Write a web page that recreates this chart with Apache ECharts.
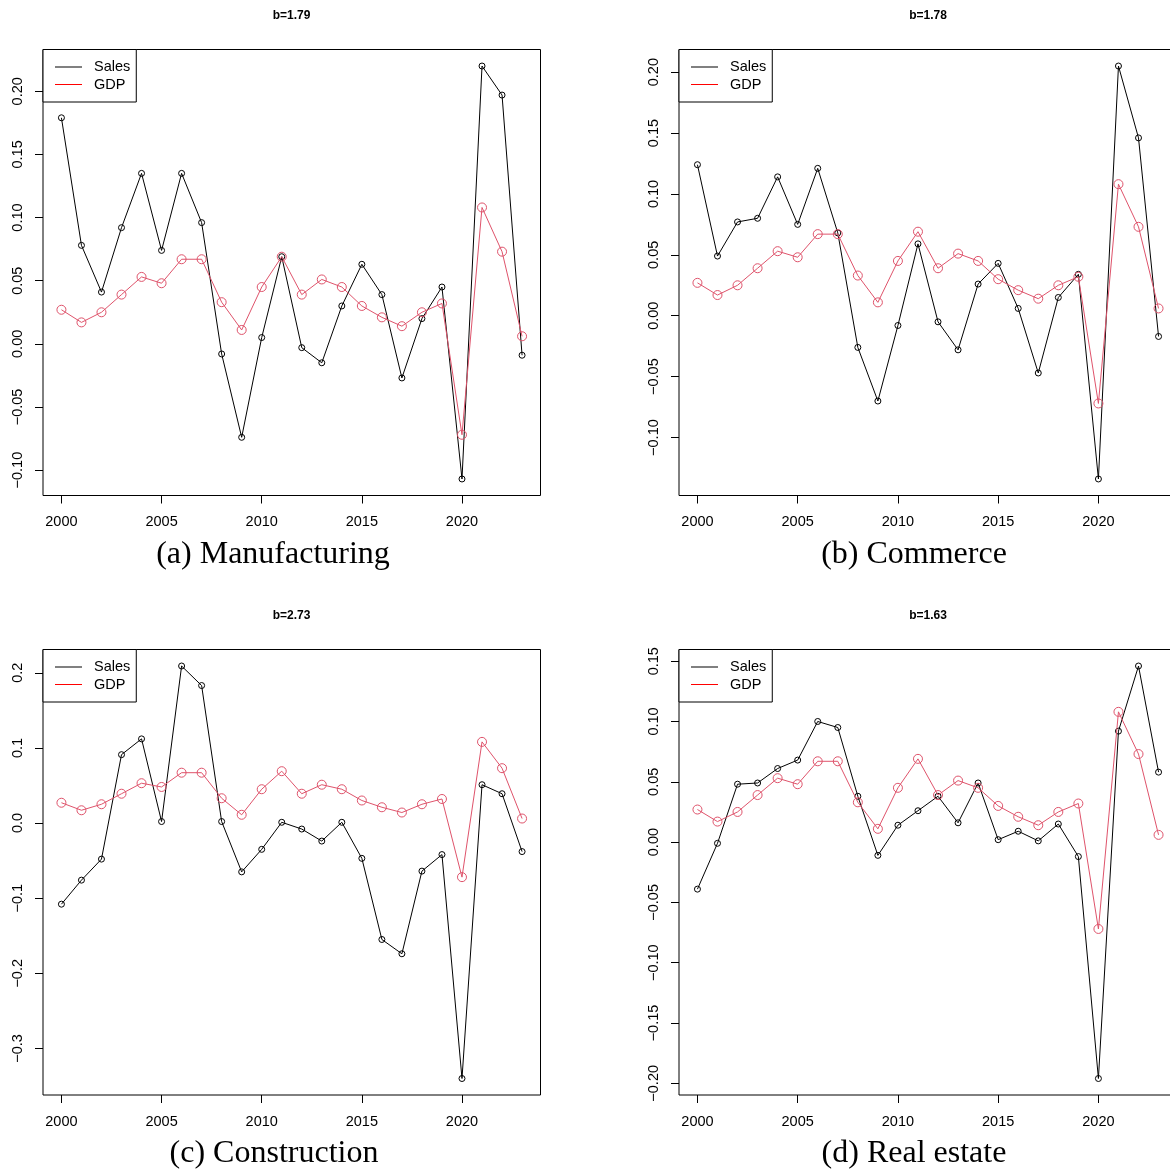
<!DOCTYPE html>
<html>
<head>
<meta charset="utf-8">
<script src="https://cdn.jsdelivr.net/npm/echarts@6/dist/echarts.min.js"></script>
<style>
html,body{margin:0;padding:0;background:#fff;}
#chart{width:1170px;height:1169px;}
</style>
</head>
<body>
<div id="chart"></div>
<script>
// ---------------- data ----------------
const years = [2000,2001,2002,2003,2004,2005,2006,2007,2008,2009,2010,2011,2012,2013,2014,2015,2016,2017,2018,2019,2020,2021,2022,2023];
const gdp = [0.027,0.017,0.025,0.039,0.053,0.048,0.067,0.067,0.033,0.011,0.045,0.069,0.039,0.051,0.045,0.030,0.021,0.014,0.025,0.032,-0.072,0.108,0.073,0.006];
const salesManufacturing = [0.179,0.078,0.041,0.092,0.135,0.074,0.135,0.096,-0.008,-0.074,0.005,0.069,-0.003,-0.015,0.030,0.063,0.039,-0.027,0.020,0.045,-0.107,0.220,0.197,-0.009];
const salesCommerce = [0.124,0.049,0.077,0.080,0.114,0.075,0.121,0.068,-0.026,-0.070,-0.008,0.059,-0.005,-0.028,0.026,0.043,0.006,-0.047,0.015,0.034,-0.134,0.205,0.146,-0.017];
const salesConstruction = [-0.108,-0.076,-0.048,0.091,0.112,0.002,0.209,0.183,0.002,-0.065,-0.035,0.001,-0.008,-0.024,0.001,-0.047,-0.155,-0.174,-0.064,-0.042,-0.340,0.051,0.039,-0.038];
const salesRealEstate = [-0.039,-0.001,0.048,0.049,0.061,0.068,0.100,0.095,0.038,-0.011,0.014,0.026,0.038,0.016,0.049,0.002,0.009,0.001,0.015,-0.012,-0.196,0.092,0.146,0.058];
const xTicks = [2000,2005,2010,2015,2020];
const yTicksA = [-0.10,-0.05,0.00,0.05,0.10,0.15,0.20];
const yTicksB = [-0.10,-0.05,0.00,0.05,0.10,0.15,0.20];
const yTicksC = [-0.3,-0.2,-0.1,0.0,0.1,0.2];
const yTicksD = [-0.20,-0.15,-0.10,-0.05,0.00,0.05,0.10,0.15];
const yDecimals = [2,2,1,2];
const bLabels = ['b=1.79','b=1.78','b=2.73','b=1.63'];
const captions = ['(a) Manufacturing','(b) Commerce','(c) Construction','(d) Real estate'];
const legendNames = ['Sales','GDP'];

// ---------------- layout ----------------
const panels = [
  {sales: salesManufacturing, ticks: yTicksA, left: 43,  top: 49.5,  width: 497.5, height: 446,   capX: 273, capY: 555},
  {sales: salesCommerce,      ticks: yTicksB, left: 679, top: 49.5,  width: 498,   height: 446,   capX: 914, capY: 555},
  {sales: salesConstruction,  ticks: yTicksC, left: 43,  top: 649.5, width: 497.5, height: 445.5, capX: 274, capY: 1154},
  {sales: salesRealEstate,    ticks: yTicksD, left: 679, top: 649.5, width: 498,   height: 445.5, capX: 914, capY: 1154}
];

const SANS = 'Liberation Sans, Arial, Helvetica, sans-serif';
const SERIF = 'Liberation Serif, Times New Roman, serif';
const fmtNum = (v, d) => (v < 0 ? '\u2212' : '') + Math.abs(v).toFixed(d);

const grid = [], xAxis = [], yAxis = [], series = [], legend = [], title = [];

panels.forEach((p, i) => {
  grid.push({left: p.left, top: p.top, width: p.width, height: p.height,
    outerBoundsMode: 'none',
    show: true, borderColor: '#000', borderWidth: 1, backgroundColor: 'transparent', containLabel: false});

  const xr = years[years.length - 1] - years[0];
  xAxis.push({
    type: 'value', gridIndex: i, position: 'bottom',
    min: years[0] - 0.04 * xr, max: years[years.length - 1] + 0.04 * xr,
    axisLine: {show: false, onZero: false},
    splitLine: {show: false},
    axisTick: {show: true, inside: false, length: 8, customValues: xTicks, lineStyle: {color: '#000', width: 1}},
    axisLabel: {show: true, customValues: xTicks, margin: 19, color: '#000', fontFamily: SANS, fontSize: 14.5,
      formatter: v => String(v)}
  });

  const all = p.sales.concat(gdp);
  const lo = Math.min.apply(null, all), hi = Math.max.apply(null, all);
  const yr = hi - lo;
  yAxis.push({
    type: 'value', gridIndex: i, position: 'left',
    min: lo - 0.04 * yr, max: hi + 0.04 * yr,
    axisLine: {show: false, onZero: false},
    splitLine: {show: false},
    axisTick: {show: true, inside: false, length: 8, customValues: p.ticks, lineStyle: {color: '#000', width: 1}},
    axisLabel: {show: true, customValues: p.ticks, rotate: 90, margin: 18, color: '#000', fontFamily: SANS, fontSize: 14.5,
      formatter: v => fmtNum(v, yDecimals[i])}
  });

  series.push({
    name: 'Sales', type: 'line', xAxisIndex: i, yAxisIndex: i,
    data: years.map((y, k) => [y, p.sales[k]]),
    symbol: 'circle', symbolSize: 6,
    itemStyle: {color: 'rgba(0,0,0,0)', borderColor: '#000', borderWidth: 1},
    lineStyle: {color: '#000', width: 1},
    emphasis: {disabled: true}, animation: false, z: 2
  });
  series.push({
    name: 'GDP', type: 'line', xAxisIndex: i, yAxisIndex: i,
    data: years.map((y, k) => [y, gdp[k]]),
    symbol: 'circle', symbolSize: 9,
    itemStyle: {color: 'rgba(0,0,0,0)', borderColor: '#DF536B', borderWidth: 1},
    lineStyle: {color: '#DF536B', width: 1},
    emphasis: {disabled: true}, animation: false, z: 3
  });

  legend.push({
    orient: 'vertical', left: p.left, top: p.top,
    padding: [9, 6, 9, 12], itemGap: 0.5, itemWidth: 27, itemHeight: 1,
    icon: 'rect', selectedMode: false,
    borderColor: '#000', borderWidth: 1, backgroundColor: '#fff', z: 10,
    textStyle: {fontFamily: SANS, fontSize: 14.5, color: '#000', lineHeight: 17, padding: [0, 0, 0, 7]},
    data: [
      {name: legendNames[0], itemStyle: {color: '#000000', borderWidth: 0}, lineStyle: {color: '#000000'}},
      {name: legendNames[1], itemStyle: {color: '#FF0000', borderWidth: 0}, lineStyle: {color: '#FF0000'}}
    ]
  });

  title.push({
    text: bLabels[i], left: i % 2 === 0 ? 291.5 : 928, top: p.top - 41, textAlign: 'center', padding: 0,
    textStyle: {fontFamily: SANS, fontSize: 12, fontWeight: 'bold', color: '#000', lineHeight: 14}
  });
  title.push({
    text: captions[i], left: p.capX, top: p.capY - 18, textAlign: 'center', padding: 0,
    textStyle: {fontFamily: SERIF, fontSize: 32, fontWeight: 'normal', color: '#000', lineHeight: 36}
  });
});

const chart = echarts.init(document.getElementById('chart'), null, {renderer: 'canvas'});
chart.setOption({
  animation: false,
  backgroundColor: '#fff',
  title, grid, xAxis, yAxis, series, legend
});
</script>
</body>
</html>
